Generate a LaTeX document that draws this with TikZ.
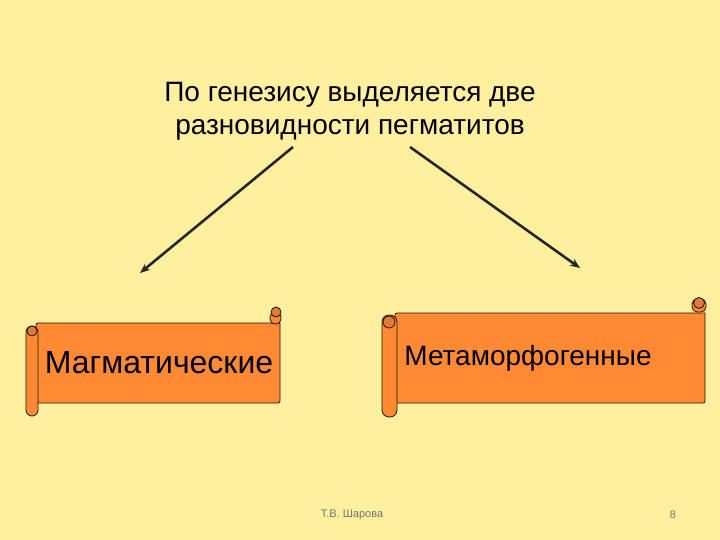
\documentclass[tikz,border=0pt]{standalone}
\usepackage{fontspec}
\setmainfont{Liberation Sans}
\usetikzlibrary{arrows.meta}
\begin{document}
\begin{tikzpicture}[x=1pt,y=-1pt,
  arr/.style={-{Stealth[length=10pt,width=8pt]}, line width=2.6pt, draw=black!85},
  lbl/.style={text=black, inner sep=0pt}]
\definecolor{bg}{HTML}{FFF0A0}
\definecolor{scr}{HTML}{FF8A33}
\definecolor{rol}{HTML}{E07A35}
\fill[bg] (0,0) rectangle (720,540);
\useasboundingbox (0,0) rectangle (720,540);
\tikzset{scrollfill/.style={fill=scr, draw=black!85!brown, line width=0.8pt},
rollfill/.style={fill=rol, draw=black!85!brown, line width=0.8pt}}
% left scroll
\draw[scrollfill] (36,323) -- (280,323) -- (280,400) [rounded corners=2pt] -- (280,403) -- (36,403) -- cycle;
\draw[scrollfill, rounded corners=5pt] (270,324) -- (270,312) -- (281,312) -- (281,324) -- cycle;
\draw[rollfill] (276,312) circle (5);
\draw[scrollfill, rounded corners=6pt] (26,326) rectangle (38,416);
\draw[rollfill] (32,331) circle (5);
\node[lbl, font=\fontsize{32}{34}\selectfont] (m) at (159,363) {Магматические};
% right scroll
\draw[scrollfill] (395,313) -- (705,313) -- (705,400) [rounded corners=2pt] -- (705,403) -- (395,403) -- cycle;
\draw[scrollfill, rounded corners=5pt] (692,312) -- (692,299) -- (706,299) -- (706,312) -- cycle;
\draw[rollfill] (699,303) circle (5.5);
\draw[scrollfill, rounded corners=7pt] (382,315) rectangle (397,417);
\draw[rollfill] (389,322) circle (6);
\node[lbl, font=\fontsize{28}{30}\selectfont] (mm) at (528,358) {Метаморфогенные};
% title
\node[lbl, align=center, font=\fontsize{28}{33}\selectfont] (t) at (350,111) {По генезису выделяется две\\разновидности пегматитов};
\coordinate (a1) at (293,147); \coordinate (a2) at (140,273);
\coordinate (b1) at (410,147); \coordinate (b2) at (580,268);
\draw[arr] (a1) -- (a2);
\draw[arr] (b1) -- (b2);
\node[lbl, text=black!55, font=\fontsize{11}{13}\selectfont] (f) at (352,515) {Т.В. Шарова};
\node[lbl, text=black!55, font=\fontsize{11}{13}\selectfont] (n) at (673,515) {8};
\end{tikzpicture}
\end{document}
